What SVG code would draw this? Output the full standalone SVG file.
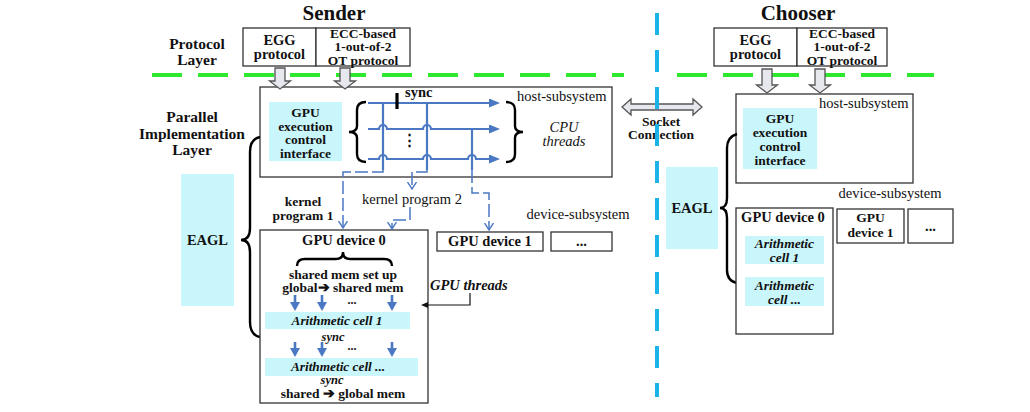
<svg xmlns="http://www.w3.org/2000/svg" width="1030" height="412" viewBox="0 0 1030 412">
<defs>
<style>
text{font-family:"Liberation Serif","Times New Roman",serif;fill:#111;}
.b{font-weight:bold;}
.i{font-style:italic;}
.t{font-size:14.5px;}
.m{font-size:13.5px;}
.c{text-anchor:middle;}
.box{fill:#fff;stroke:#333;stroke-width:1.3;}
.cy{fill:#c9f6fb;stroke:none;}
.thr{fill:none;stroke:#4a78c2;stroke-width:2.2;}
.dsh{fill:none;stroke:#4a78c2;stroke-width:1.5;stroke-dasharray:13 4;}
.brace{fill:none;stroke:#000;stroke-width:2.4;}
.blk{fill:#e6e8ee;stroke:#555;stroke-width:1.3;}
.gd{stroke:#2ee82e;stroke-width:4;stroke-dasharray:30 16;}
</style>
<marker id="tri" markerUnits="userSpaceOnUse" markerWidth="11" markerHeight="9" refX="0" refY="4.5" orient="auto"><path d="M0,0 L11,4.5 L0,9 z" fill="#4a78c2"/></marker>
<marker id="fat" markerUnits="userSpaceOnUse" markerWidth="10" markerHeight="10" refX="0" refY="5" orient="auto"><path d="M0,0 L9,5 L0,10 z" fill="#4a78c2"/></marker>
<marker id="opn" markerUnits="userSpaceOnUse" markerWidth="10" markerHeight="10" refX="7" refY="5" orient="auto"><path d="M0,0.5 L7,5 L0,9.5" fill="none" stroke="#4a78c2" stroke-width="1.4"/></marker>
<marker id="btri" markerUnits="userSpaceOnUse" markerWidth="8" markerHeight="8" refX="0" refY="3" orient="auto"><path d="M0,0 L7,3 L0,6 z" fill="#111"/></marker>
<path id="ba1" d="M-5,0 H5 V13 H10.5 L0,21 L-10.5,13 H-5 Z"/>
<path id="ba2" d="M-5,0 H5 V16 H10.5 L0,24 L-10.5,16 H-5 Z"/>
</defs>

<!-- protocol layer separator -->
<g id="layer-line">
<line class="gd" x1="152" y1="75" x2="624" y2="75"/>
<line class="gd" x1="677" y1="75" x2="934" y2="75"/>
</g>

<!-- titles and layer labels -->
<g id="labels">
<text class="b c" x="334" y="20" font-size="21">Sender</text>
<text class="b c" x="798" y="20" font-size="21">Chooser</text>
<text class="b c" x="197" y="49" font-size="15.5">Protocol</text>
<text class="b c" x="197" y="65" font-size="15.5">Layer</text>
<text class="b c" x="192" y="122" font-size="15.5">Parallel</text>
<text class="b c" x="192" y="138.5" font-size="15.5">Implementation</text>
<text class="b c" x="192" y="155" font-size="15.5">Layer</text>
</g>

<!-- Sender protocol boxes -->
<g id="s-egg">
<rect class="box" x="243" y="28" width="73" height="38"/>
<text class="b c t" x="279.5" y="45">EGG</text>
<text class="b c t" x="279.5" y="59">protocol</text>
</g>
<g id="s-ecc">
<rect class="box" x="316" y="28" width="94" height="38"/>
<text class="b c m" x="363" y="37.5">ECC-based</text>
<text class="b c m" x="363" y="51">1-out-of-2</text>
<text class="b c m" x="363" y="64.5">OT protocol</text>
</g>

<!-- Chooser protocol boxes -->
<g id="c-egg">
<rect class="box" x="714" y="28" width="83" height="38"/>
<text class="b c t" x="755.5" y="45">EGG</text>
<text class="b c t" x="755.5" y="59">protocol</text>
</g>
<g id="c-ecc">
<rect class="box" x="797" y="28" width="90" height="38"/>
<text class="b c m" x="842" y="37.5">ECC-based</text>
<text class="b c m" x="842" y="51">1-out-of-2</text>
<text class="b c m" x="842" y="64.5">OT protocol</text>
</g>

<!-- Sender host subsystem -->
<g id="s-host">
<rect class="box" x="260" y="87" width="352" height="90" stroke-width="1.5"/>
<text class="t" x="517" y="101">host-subsystem</text>
<rect class="cy" x="269" y="102" width="73" height="59"/>
<text class="b c m" x="305.5" y="117">GPU</text>
<text class="b c m" x="305.5" y="130.5">execution</text>
<text class="b c m" x="305.5" y="144">control</text>
<text class="b c m" x="305.5" y="157.5">interface</text>
<path class="brace" d="M366,102 Q357,102 357,110 V126 Q357,132 349,132 Q357,132 357,138 V154 Q357,162 366,162"/>
<path class="brace" d="M506,102 Q515,102 515,110 V126 Q515,132 523,132 Q515,132 515,138 V154 Q515,162 506,162"/>
<text class="i c t" x="564" y="132">CPU</text>
<text class="i c t" x="564" y="146">threads</text>
<text class="b t" x="405" y="97">sync</text>
<text class="b c" x="409" y="145" font-size="15">⋮</text>
</g>

<!-- Chooser host subsystem -->
<g id="c-host">
<rect class="box" x="736" y="94" width="177" height="89" stroke-width="1.5"/>
<text class="t" x="819" y="108">host-subsystem</text>
<rect class="cy" x="743" y="108" width="74" height="61"/>
<text class="b c m" x="780" y="123">GPU</text>
<text class="b c m" x="780" y="137">execution</text>
<text class="b c m" x="780" y="151">control</text>
<text class="b c m" x="780" y="164.5">interface</text>
</g>

<!-- Sender EAGL -->
<g id="s-eagl">
<rect class="cy" x="181" y="174" width="53" height="132"/>
<text class="b c t" x="207.5" y="245">EAGL</text>
<path class="brace" d="M260,137 Q250,139 250,152 V228 Q250,240 241,240 Q250,240 250,252 V322 Q250,335 260,337" stroke-width="2.6"/>
</g>

<!-- Chooser EAGL -->
<g id="c-eagl">
<rect class="cy" x="666" y="167" width="52" height="82"/>
<text class="b c t" x="692" y="213">EAGL</text>
<path class="brace" d="M737,134 Q727,137 727,148 V198 Q727,208 720,208 Q727,208 727,218 V270 Q727,281 737,283" stroke-width="2.6"/>
</g>

<!-- Sender device subsystem labels -->
<g id="s-kernel-labels">
<text class="b c m" x="303" y="206">kernel</text>
<text class="b c m" x="303" y="220">program 1</text>
<text class="c t" x="412" y="204">kernel program 2</text>
<text class="c t" x="578" y="219">device-subsystem</text>
</g>

<g id="s-gpu0">
<rect class="box" x="260" y="230" width="168" height="173"/>
<text class="b c t" x="344" y="245">GPU device 0</text>
<path class="brace" d="M297,266 Q297,259 305,259 H336 Q343,259 343,252 Q343,259 350,259 H384 Q392,259 392,266" stroke-width="2"/>
<text class="b c m" x="343" y="279">shared mem set up</text>
<text class="b c m" x="343" y="292">global➔ shared mem</text>
<g stroke="#4a78c2" stroke-width="2.6">
<line x1="295" y1="295" x2="295" y2="302" marker-end="url(#fat)"/>
<line x1="322" y1="295" x2="322" y2="302" marker-end="url(#fat)"/>
<line x1="392" y1="295" x2="392" y2="302" marker-end="url(#fat)"/>
<line x1="295" y1="342" x2="295" y2="348" marker-end="url(#fat)"/>
<line x1="322" y1="342" x2="322" y2="348" marker-end="url(#fat)"/>
<line x1="392" y1="342" x2="392" y2="348" marker-end="url(#fat)"/>
</g>
<text class="b c" x="352" y="304" font-size="12">...</text>
<rect class="cy" x="265" y="312" width="145" height="17"/>
<text class="b i c" x="337" y="325" font-size="13.3">Arithmetic cell 1</text>
<text class="b i c" x="333" y="340.5" font-size="12.5">sync</text>
<text class="b c" x="352" y="350" font-size="12">...</text>
<rect class="cy" x="265" y="358" width="153" height="18"/>
<text class="b i c" x="338" y="371" font-size="13.3">Arithmetic cell ...</text>
<text class="b i c" x="332" y="384" font-size="12.5">sync</text>
<text class="b c m" x="343" y="398">shared ➔ global  mem</text>
</g>

<g id="s-gpu1">
<rect class="box" x="437" y="232" width="106" height="19"/>
<text class="b c t" x="490" y="246">GPU device 1</text>
</g>
<g id="s-more">
<rect class="box" x="551" y="232" width="61" height="19"/>
<text class="b c t" x="581.5" y="246">...</text>
</g>

<g id="s-gputhreads-label">
<text class="b i t" x="430" y="290">GPU threads</text>
</g>

<!-- Chooser device subsystem -->
<g id="c-devsub">
<text class="c t" x="890" y="198">device-subsystem</text>
</g>
<g id="c-gpu0">
<rect class="box" x="736" y="208" width="97" height="126"/>
<text class="b c t" x="783" y="222">GPU device 0</text>
<rect class="cy" x="745" y="236" width="79" height="28"/>
<text class="b i c m" x="784.5" y="248">Arithmetic</text>
<text class="b i c m" x="784.5" y="262">cell 1</text>
<rect class="cy" x="745" y="277" width="79" height="29"/>
<text class="b i c m" x="784.5" y="290">Arithmetic</text>
<text class="b i c m" x="784.5" y="304">cell ...</text>
</g>
<g id="c-gpu1">
<rect class="box" x="837" y="209" width="67" height="34"/>
<text class="b c m" x="870.5" y="222">GPU</text>
<text class="b c m" x="870.5" y="237">device 1</text>
</g>
<g id="c-more">
<rect class="box" x="908" y="209" width="45" height="34"/>
<text class="b c t" x="930.5" y="231">...</text>
</g>

<!-- Socket label -->
<g id="socket">
<path class="blk" d="M622,107 L631,99 V104 H693 V99 L702,107 L693,115 V110 H631 V115 Z"/>
<text class="b c m" x="661" y="126">Socket</text>
<text class="b c m" x="661" y="139">Connection</text>
</g>

<!-- connectors -->
<g id="connectors">
<use href="#ba1" class="blk" x="280" y="68"/>
<use href="#ba1" class="blk" x="345" y="68"/>
<use href="#ba2" class="blk" x="767" y="69"/>
<use href="#ba2" class="blk" x="820" y="69"/>

<path class="thr" d="M368,103 H489" marker-end="url(#tri)"/>
<path class="thr" d="M368,129 H379 A4,4 0 0 1 387,129 H423 A4,4 0 0 1 431,129 H489" marker-end="url(#tri)"/>
<path class="thr" d="M368,159 H379 A4,4 0 0 1 387,159 H423 A4,4 0 0 1 431,159 H468 A4,4 0 0 1 476,159 H489" marker-end="url(#tri)"/>
<path class="thr" d="M383,103 V170" stroke-width="1.6"/>
<path class="thr" d="M427,103 V170" stroke-width="1.6"/>
<path class="thr" d="M472,129 V170" stroke-width="1.6"/>
<line x1="397" y1="93" x2="397" y2="109" stroke="#000" stroke-width="3.2"/>

<path class="dsh" d="M383,170 V172 H343 V228" marker-end="url(#opn)"/>
<path class="dsh" d="M427,170 V172 H412 V189" marker-end="url(#opn)"/>
<path class="dsh" d="M410,207 V220 H392 V229" marker-end="url(#opn)"/>
<path class="dsh" d="M472,170 V193 H489 V230" marker-end="url(#opn)"/>

<path d="M470,293 V305 H428" fill="none" stroke="#111" stroke-width="1.2" marker-end="url(#btri)"/>
</g>

<!-- party separator -->
<g id="separator">
<line x1="657" y1="13" x2="657" y2="397" stroke="#1cb4e8" stroke-width="4" stroke-dasharray="22 15"/>
</g>
</svg>
